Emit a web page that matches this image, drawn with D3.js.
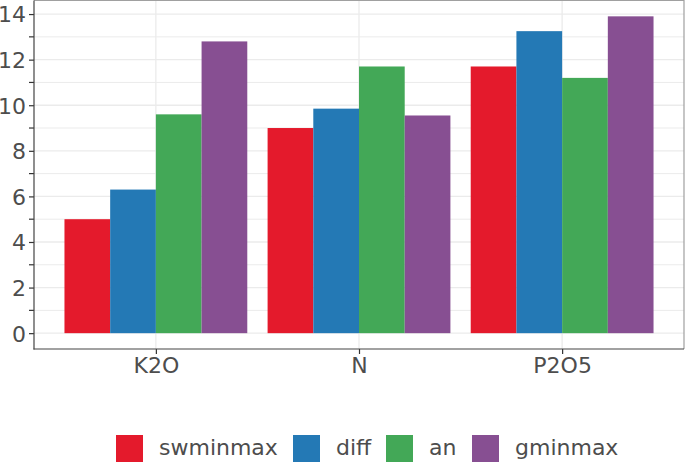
<!DOCTYPE html>
<html>
<head>
<meta charset="utf-8">
<script src="https://cdn.jsdelivr.net/npm/d3@7"></script>
<style>
  html, body { margin: 0; padding: 0; background: #fff; }
  svg { display: block; }
  text { font-family: "DejaVu Sans", sans-serif; }
</style>
</head>
<body>
<svg id="chart" width="685" height="462"></svg>
<script>
const categories = ["K2O", "N", "P2O5"];
const seriesNames = ["swminmax", "diff", "an", "gminmax"];
const swminmax = [5.0, 9.0, 11.7];
const diff = [6.3, 9.85, 13.25];
const an = [9.6, 11.7, 11.2];
const gminmax = [12.8, 9.55, 13.9];
const seriesValues = [swminmax, diff, an, gminmax];
const seriesColors = ["#E41A2C", "#2479B5", "#43A857", "#874F92"];
const yTicks = [0, 2, 4, 6, 8, 10, 12, 14];
const yMinorTicks = [1, 3, 5, 7, 9, 11, 13];

(function () {
const svg = d3.select("#chart");
const pLeft = 34, pRight = 684, pTop = 0.5, pBottom = 349;
const textColor = "#4d4d4d";
const fontSize = 22;

const maxV = d3.max(seriesValues.flat());
const pad = maxV * 0.05;
const y = d3.scaleLinear().domain([-pad, maxV + pad]).range([pBottom, pTop]);
const x = d3.scalePoint().domain(categories).range([pLeft, pRight]).padding(0.6);
const step = x.step();
const groupW = step * 0.9;
const xs = d3.scaleBand().domain(seriesNames).range([-groupW / 2, groupW / 2]).padding(0);

// grid
const grid = svg.append("g");
grid.selectAll(".minor").data(yMinorTicks).join("line")
  .attr("x1", pLeft).attr("x2", pRight)
  .attr("y1", d => y(d)).attr("y2", d => y(d))
  .attr("stroke", "#ebebeb").attr("stroke-width", 1);
grid.selectAll(".major").data(yTicks).join("line")
  .attr("x1", pLeft).attr("x2", pRight)
  .attr("y1", d => y(d)).attr("y2", d => y(d))
  .attr("stroke", "#ebebeb").attr("stroke-width", 1.3);
grid.selectAll(".vmaj").data(categories).join("line")
  .attr("x1", d => x(d)).attr("x2", d => x(d))
  .attr("y1", pTop).attr("y2", pBottom)
  .attr("stroke", "#ebebeb").attr("stroke-width", 1.3);

// bars
const data = [];
categories.forEach((c, i) => seriesNames.forEach((s, j) => data.push({c, s, v: seriesValues[j][i], color: seriesColors[j]})));
svg.append("g").selectAll("rect").data(data).join("rect")
  .attr("x", d => x(d.c) + xs(d.s))
  .attr("width", xs.bandwidth())
  .attr("y", d => y(d.v))
  .attr("height", d => y(0) - y(d.v))
  .attr("fill", d => d.color);

// panel border (top/right)
svg.append("path")
  .attr("d", `M${pLeft},${pTop}H${pRight}V${pBottom}`)
  .attr("fill", "none").attr("stroke", "#a0a0a0").attr("stroke-width", 1.2);

// axes
const yAxis = d3.axisLeft(y).tickValues(yTicks).tickSize(5).tickPadding(3).tickFormat(d3.format("d"));
const gy = svg.append("g").attr("transform", `translate(${pLeft},0)`).call(yAxis);
gy.selectAll(".minortick").data(yMinorTicks).join("line")
  .attr("class", "minortick")
  .attr("x1", -5).attr("x2", 0)
  .attr("y1", d => y(d)).attr("y2", d => y(d))
  .attr("stroke", "#333").attr("stroke-width", 1.2);
const xAxis = d3.axisBottom(x).tickSize(5).tickPadding(3);
const gx = svg.append("g").attr("transform", `translate(0,${pBottom})`).call(xAxis);

[gy, gx].forEach(g => {
  g.select(".domain").remove();
  g.selectAll(".tick line").attr("stroke", "#333").attr("stroke-width", 1.2);
  g.selectAll("text").attr("fill", textColor).attr("font-size", fontSize).attr("font-family", "DejaVu Sans");
});
gy.selectAll(".tick text").attr("dy", "0.36em");
svg.append("line").attr("x1", pLeft).attr("x2", pLeft).attr("y1", pTop).attr("y2", pBottom + 0.5)
  .attr("stroke", "#444").attr("stroke-width", 1.2);
svg.append("line").attr("x1", pLeft - 0.5).attr("x2", pRight).attr("y1", pBottom).attr("y2", pBottom)
  .attr("stroke", "#444").attr("stroke-width", 1.2);

// legend
const legendX = [116, 293, 386, 472];
const lg = svg.append("g");
seriesNames.forEach((s, j) => {
  lg.append("rect").attr("x", legendX[j]).attr("y", 435).attr("width", 27).attr("height", 27)
    .attr("fill", seriesColors[j]);
  lg.append("text").attr("x", legendX[j] + 43).attr("y", 455)
    .attr("fill", textColor).attr("font-size", fontSize).text(s);
});
})();
</script>
</body>
</html>
